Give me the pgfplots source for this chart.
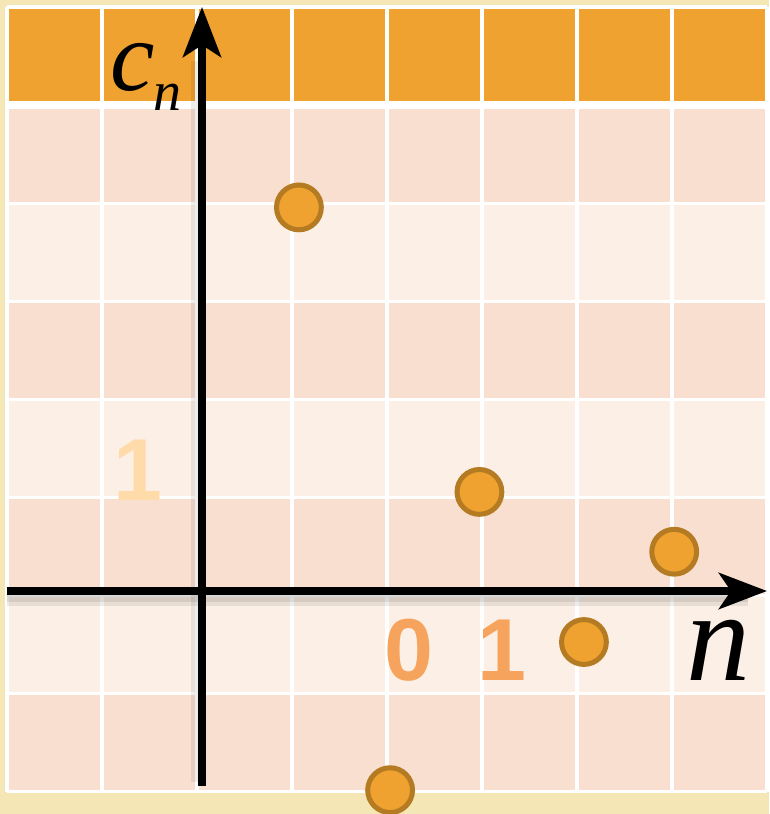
\documentclass[border=0pt]{standalone}
\usepackage{pgfplots}
\pgfplotsset{compat=1.18}
\usepackage{fontspec}
\setmainfont{Liberation Sans}
\newfontfamily\serif{Liberation Serif}
\usetikzlibrary{arrows.meta}
\definecolor{bgbeige}{HTML}{F5E6B5}
\definecolor{toporange}{HTML}{EFA22F}
\definecolor{darkpink}{HTML}{F8DFCF}
\definecolor{lightpink}{HTML}{FCF0E6}
\definecolor{mkstroke}{HTML}{B47B23}
\definecolor{digit}{HTML}{F6A45D}
\definecolor{ydigit}{HTML}{FFDBAA}
\begin{document}
\begin{tikzpicture}
\begin{axis}[
  x=47.5pt, y=49.05pt,
  xmin=-2.053, xmax=5.947, ymin=-2.047, ymax=5.953,
  hide axis, clip=false,
]
% background and cells
\fill[bgbeige] (axis cs:-2.126,-2.273) rectangle (axis cs:5.968,6.024);
\coordinate (bl) at (axis cs:-2.126,-2.273);
\coordinate (tr) at (axis cs:5.968,6.024);
\fill[lightpink] (axis cs:-2.053,-2.047) rectangle (axis cs:5.947,5.953);
\fill[darkpink] (axis cs:-2.053,3.953) rectangle (axis cs:5.947,4.953);
\fill[darkpink] (axis cs:-2.053,1.953) rectangle (axis cs:5.947,2.953);
\fill[darkpink] (axis cs:-2.053,-0.047) rectangle (axis cs:5.947,0.953);
\fill[darkpink] (axis cs:-2.053,-2.047) rectangle (axis cs:5.947,-1.047);
\fill[toporange] (axis cs:-2.053,4.953) rectangle (axis cs:5.947,5.953);
% white grid lines
\pgfplotsinvokeforeach{-2.053,-1.053,-0.053,0.947,1.947,2.947,3.947,4.947,5.947}{
  \draw[white, line width=1.6pt] (axis cs:#1,-2.047) -- (axis cs:#1,5.953);
}
\pgfplotsinvokeforeach{-2.047,-1.047,-0.047,0.953,1.953,2.953,3.953,5.953}{
  \draw[white, line width=1.6pt] (axis cs:-2.053,#1) -- (axis cs:5.947,#1);
}
\draw[white, line width=3.6pt] (axis cs:-2.053,4.953) -- (axis cs:5.947,4.953);
% axis shadows (soft)
\draw[black, opacity=0.08, line width=7pt] (axis cs:-2.053,-0.08) -- (axis cs:5.75,-0.08);
\draw[black, opacity=0.08, line width=4pt] (axis cs:-2.053,-0.07) -- (axis cs:5.75,-0.07);
\draw[black, opacity=0.07, line width=6pt] (axis cs:-0.05,-1.95) -- (axis cs:-0.05,5.4);
% axes
\draw[black, line width=4pt, -{Stealth[length=24pt, width=18pt, inset=6pt]}] (axis cs:-2.053,0) -- (axis cs:5.947,0);
\draw[black, line width=4pt, -{Stealth[length=25pt, width=19pt, inset=6pt]}] (axis cs:0,-1.988) -- (axis cs:0,5.953);
% labels
\node[text=black] at (axis cs:-0.726,5.34) {\fontsize{50}{50}\selectfont\serif\itshape c};
\node[text=black] at (axis cs:-0.358,5.03) {\fontsize{28}{28}\selectfont\serif\itshape n};
\node[text=black] at (axis cs:5.432,-0.60) {\fontsize{64}{64}\selectfont\serif\itshape n};
\node[text=digit] at (axis cs:2.179,-0.601) {\fontsize{44}{44}\selectfont\bfseries 0};
\node[text=digit] at (axis cs:3.158,-0.601) {\fontsize{44}{44}\selectfont\bfseries 1};
\node[text=ydigit] at (axis cs:-0.674,1.233) {\fontsize{44}{44}\selectfont\bfseries 1};
% data
\addplot[only marks, mark=*, mark size=11.2pt,
  mark options={fill=toporange, draw=mkstroke, line width=2.5pt}]
  coordinates {(1.02,3.91) (2.92,1.01) (4.97,0.40) (4.02,-0.52) (1.98,-2.03)};
\end{axis}
\pgfresetboundingbox
\path[use as bounding box] (bl) rectangle (tr);
\end{tikzpicture}
\end{document}
